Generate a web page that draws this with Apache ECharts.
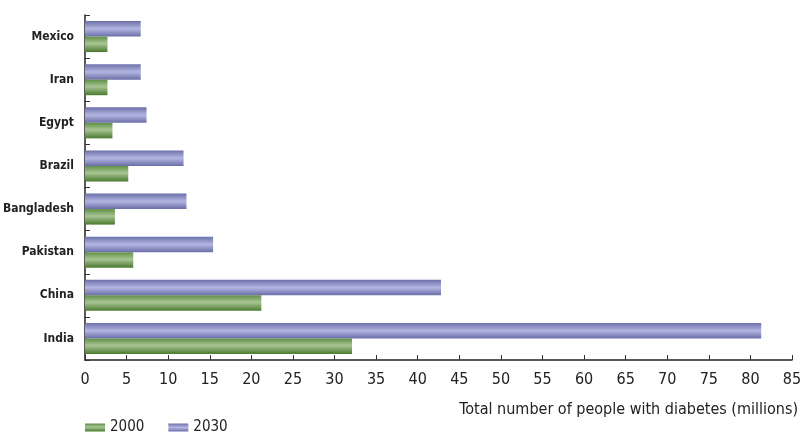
<!DOCTYPE html>
<html><head><meta charset="utf-8">
<script src="https://cdn.jsdelivr.net/npm/echarts@6/dist/echarts.min.js"></script>
<style>html,body{margin:0;padding:0;background:#fff}#c{width:805px;height:434px}</style>
</head><body><div id="c"></div>
<script>
const categories = ['India','China','Pakistan','Bangladesh','Brazil','Egypt','Iran','Mexico'];
const values2000 = [32.1, 21.2, 5.8, 3.6, 5.2, 3.3, 2.7, 2.7];
const values2030 = [81.3, 42.8, 15.4, 12.2, 11.85, 7.4, 6.7, 6.7];
const xTicks = {min: 0, max: 85, interval: 5};
const FONT = '"Liberation Sans Narrow","DejaVu Sans Condensed",sans-serif';

const greenGrad = new echarts.graphic.LinearGradient(0,0,0,1,[
  {offset:0,color:'#5f8f45'},{offset:0.45,color:'#a9c494'},{offset:1,color:'#4a7a2e'}]);
const blueGrad = new echarts.graphic.LinearGradient(0,0,0,1,[
  {offset:0,color:'#6b70aa'},{offset:0.5,color:'#b3b6e0'},{offset:1,color:'#6a6ea8'}]);

const chart = echarts.init(document.getElementById('c'));
chart.setOption({
  animation:false,
  grid:{left:85,right:13,top:15,bottom:74,containLabel:false,outerBoundsMode:'none'},
  title:{text:'Total number of people with diabetes (millions)',right:2,top:397,
    textStyle:{fontFamily:FONT,fontSize:16,fontWeight:'normal',color:'#222'}},
  legend:{left:80,top:415,itemWidth:20,itemHeight:8,itemGap:24,icon:'rect',
    data:['2000','2030'],textStyle:{fontFamily:FONT,fontSize:15,color:'#222'}},
  xAxis:{type:'value',min:xTicks.min,max:xTicks.max,interval:xTicks.interval,
    axisLine:{show:true,lineStyle:{color:'#222',width:1.5}},
    axisTick:{show:true,inside:true,length:5,lineStyle:{color:'#333'}},
    splitLine:{show:false},
    axisLabel:{fontFamily:FONT,fontSize:16,color:'#222',margin:12}},
  yAxis:{type:'category',data:categories,
    axisLine:{show:true,lineStyle:{color:'#222',width:1.5}},
    axisTick:{show:true,inside:true,length:5,lineStyle:{color:'#333'}},
    axisLabel:{fontFamily:FONT,fontSize:12,fontWeight:'bold',color:'#222',margin:11}},
  series:[
    {name:'2030',type:'bar',data:values2030,itemStyle:{color:blueGrad},barGap:'0%',barCategoryGap:'28%'},
    {name:'2000',type:'bar',data:values2000,itemStyle:{color:greenGrad},barGap:'0%',barCategoryGap:'28%'}
  ]
});
</script></body></html>
